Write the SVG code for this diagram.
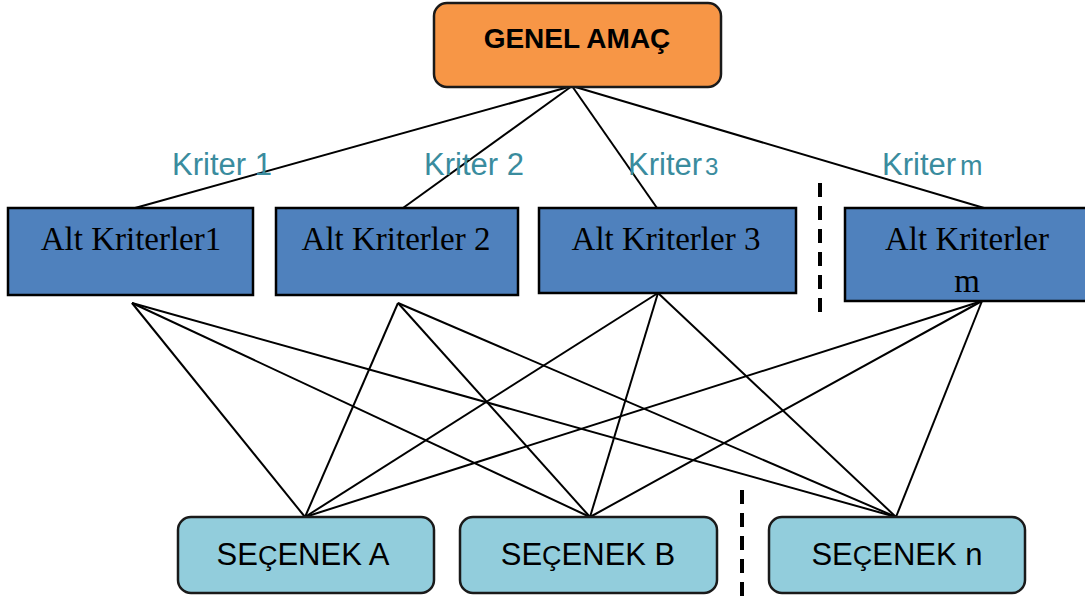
<svg xmlns="http://www.w3.org/2000/svg" width="1085" height="598" viewBox="0 0 1085 598">
<style>
.goal{fill:#F79646;stroke:#1a1a1a;stroke-width:2.5}
.alt{fill:#4F81BD;stroke:#000;stroke-width:2.5}
.opt{fill:#92CDDC;stroke:#1a1a1a;stroke-width:2.5}
.conn line{stroke:#000;stroke-width:2}
.dash{stroke:#000;stroke-width:4;stroke-dasharray:14 9;fill:none}
.t-goal{font-family:"Liberation Sans",Arial,sans-serif;font-weight:bold;font-size:28px;fill:#000;text-anchor:middle}
.t-alt{font-family:"Liberation Serif","Times New Roman",serif;font-size:33px;fill:#000;text-anchor:middle}
.t-opt{font-family:"Liberation Sans",Arial,sans-serif;font-size:31px;fill:#000;text-anchor:middle}
.t-krit{font-family:"Liberation Sans",Arial,sans-serif;font-size:31px;fill:#3A8C9E}
</style>
<rect width="1085" height="598" fill="#fff"/>
<g class="conn" id="connectors">
<line x1="572" y1="86" x2="135" y2="208"/>
<line x1="572" y1="86" x2="403" y2="208"/>
<line x1="572" y1="86" x2="657" y2="208"/>
<line x1="572" y1="86" x2="1001" y2="213"/>
<line x1="132" y1="303" x2="305" y2="517"/>
<line x1="132" y1="303" x2="590" y2="517"/>
<line x1="132" y1="303" x2="896" y2="517"/>
<line x1="398" y1="303" x2="305" y2="517"/>
<line x1="398" y1="303" x2="590" y2="517"/>
<line x1="398" y1="303" x2="896" y2="517"/>
<line x1="658" y1="293" x2="305" y2="517"/>
<line x1="658" y1="293" x2="590" y2="517"/>
<line x1="658" y1="293" x2="896" y2="517"/>
<line x1="982" y1="301" x2="305" y2="517"/>
<line x1="982" y1="301" x2="590" y2="517"/>
<line x1="982" y1="301" x2="896" y2="517"/>
</g>
<g id="dividers">
<line class="dash" x1="820" y1="183" x2="820" y2="312"/>
<line class="dash" x1="742" y1="490" x2="742" y2="598"/>
</g>
<g id="labels">
<text class="t-krit" x="172" y="175">Kriter 1</text>
<text class="t-krit" x="424" y="175">Kriter 2</text>
<text class="t-krit" x="628" y="175">Kriter<tspan dx="3" font-size="24px">3</tspan></text>
<text class="t-krit" x="882" y="175">Kriter<tspan dx="4" font-size="27px">m</tspan></text>
</g>
<g id="genel-amac">
<rect class="goal" x="434" y="3" width="287" height="84" rx="13"/>
<text class="t-goal" x="577" y="48">GENEL AMAÇ</text>
</g>
<g id="alt-kriterler-1">
<rect class="alt" x="8" y="208" width="245" height="87"/>
<text class="t-alt" x="131" y="250">Alt Kriterler1</text>
</g>
<g id="alt-kriterler-2">
<rect class="alt" x="276" y="208" width="242" height="87"/>
<text class="t-alt" x="396" y="250">Alt Kriterler 2</text>
</g>
<g id="alt-kriterler-3">
<rect class="alt" x="539" y="208" width="257" height="85"/>
<text class="t-alt" x="666" y="250">Alt Kriterler 3</text>
</g>
<g id="alt-kriterler-m">
<rect class="alt" x="845" y="208" width="245" height="93"/>
<text class="t-alt" x="967" y="250">Alt Kriterler</text>
<text class="t-alt" x="967" y="292">m</text>
</g>
<g id="secenek-a">
<rect class="opt" x="178" y="517" width="256" height="76" rx="13"/>
<text class="t-opt" x="303" y="565">SE<tspan font-size="27px">Ç</tspan>ENEK A</text>
</g>
<g id="secenek-b">
<rect class="opt" x="460" y="517" width="257" height="76" rx="13"/>
<text class="t-opt" x="588" y="565">SE<tspan font-size="27px">Ç</tspan>ENEK B</text>
</g>
<g id="secenek-n">
<rect class="opt" x="769" y="517" width="256" height="76" rx="13"/>
<text class="t-opt" x="897" y="565">SE<tspan font-size="27px">Ç</tspan>ENEK n</text>
</g>
</svg>
